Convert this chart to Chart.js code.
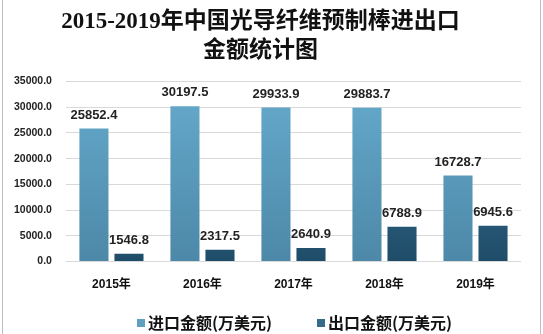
<!DOCTYPE html>
<html><head><meta charset="utf-8">
<script src="https://cdn.jsdelivr.net/npm/chart.js@4/dist/chart.umd.min.js"></script>
<style>
html,body{margin:0;padding:0;background:#fff;}
#wrap{position:relative;width:543px;height:334px;}
#frame{position:absolute;left:2px;top:0;width:537px;height:334px;border-left:1px solid #bfbfbf;border-right:1px solid #bfbfbf;box-sizing:content-box;pointer-events:none;}
canvas{position:absolute;left:0;top:0;}
</style></head>
<body>
<div id="wrap"><canvas id="c" width="543" height="334"></canvas><div id="frame"></div></div>
<script>
const categories = ['2015年','2016年','2017年','2018年','2019年'];
const importValues = [25852.4, 30197.5, 29933.9, 29883.7, 16728.7];
const exportValues = [1546.8, 2317.5, 2640.9, 6788.9, 6945.6];
const seriesNames = ['进口金额(万美元)','出口金额(万美元)'];
const titleLines = ['2015-2019年中国光导纤维预制棒进出口','金额统计图'];
const yTicks = [0,5000,10000,15000,20000,25000,30000,35000];
const legendColors = ['#5f9fbf','#356a8a'];

function grad(top, bottom, solid){
  return function(ctx){
    const chart = ctx.chart; const area = chart.chartArea;
    if(!area) return solid;
    const g = chart.ctx.createLinearGradient(0, area.top, 0, area.bottom);
    g.addColorStop(0, top); g.addColorStop(1, bottom);
    return g;
  };
}

const labelPlugin = {
  id:'valLabels',
  afterDatasetsDraw(chart){
    const c = chart.ctx;
    c.save();
    c.font = 'bold 13px "Liberation Sans", Arial, sans-serif';
    c.fillStyle = '#222';
    c.textAlign = 'center';
    c.textBaseline = 'bottom';
    chart.data.datasets.forEach((ds,i)=>{
      const meta = chart.getDatasetMeta(i);
      meta.data.forEach((bar,j)=>{
        c.fillText(ds.data[j].toFixed(1), bar.x, bar.y - 7);
      });
    });
    c.restore();
  }
};

const legendPlugin = {
  id:'manualLegend',
  afterDraw(chart){
    const c = chart.ctx;
    c.save();
    c.font = 'bold 16px "Noto Sans CJK SC", sans-serif';
    c.textBaseline = 'middle';
    c.textAlign = 'left';
    const y = 323;
    const starts = [137, 317];
    chart.data.datasets.forEach((ds,i)=>{
      c.fillStyle = legendColors[i];
      c.fillRect(starts[i], y-4, 8, 8);
      c.fillStyle = '#111';
      c.fillText(ds.label, starts[i]+11, y);
    });
    c.restore();
  }
};

new Chart(document.getElementById('c'), {
  type:'bar',
  data:{
    labels: categories,
    datasets:[
      {label: seriesNames[0], data: importValues, backgroundColor: grad('#66abcd','#4d88a8','#5a9bbd'),
       borderColor:'rgba(0,0,0,0)', categoryPercentage:0.77, barPercentage:0.83},
      {label: seriesNames[1], data: exportValues, backgroundColor: grad('#3e7a9c','#1f4d69','#2f6384'),
       borderColor:'rgba(0,0,0,0)', categoryPercentage:0.77, barPercentage:0.83}
    ]
  },
  options:{
    responsive:false, animation:false, devicePixelRatio:1,
    layout:{padding:{left:0,right:22,top:4,bottom:34}},
    plugins:{
      title:{display:true, text:titleLines, color:'#111',
        font:{family:'"Liberation Serif","Noto Sans CJK SC",serif', size:23, weight:'bold', lineHeight:1.25},
        padding:{top:4,bottom:16}},
      legend:{display:false},
      tooltip:{enabled:false}
    },
    scales:{
      x:{grid:{display:false}, border:{display:false},
        ticks:{color:'#111', padding:8, font:{family:'"Liberation Sans","Noto Sans CJK SC",sans-serif', size:12, weight:'bold'}}},
      y:{min:0, max:35000, border:{display:false},
        grid:{color:'#d9d9d9', drawTicks:false},
        afterBuildTicks(axis){ axis.ticks = yTicks.map(v=>({value:v})); },
        ticks:{color:'#222', padding:14, font:{family:'"Liberation Sans",sans-serif', size:10.5, weight:'bold'},
          callback:v=>Number(v).toFixed(1)}}
    }
  },
  plugins:[labelPlugin, legendPlugin]
});
</script>
</body></html>
